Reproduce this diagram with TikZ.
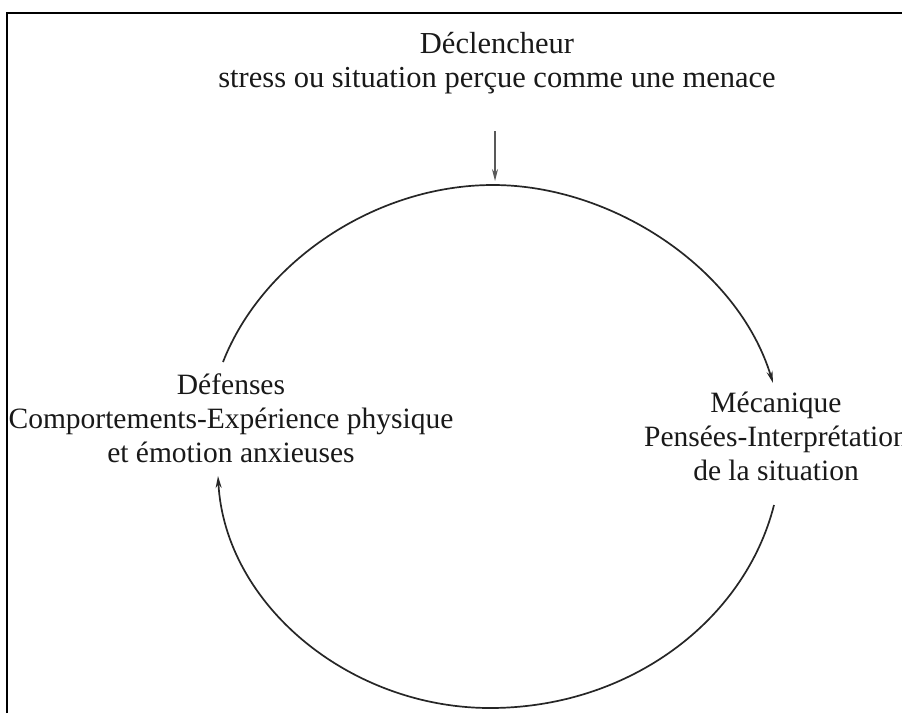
\documentclass[tikz,border=0pt]{standalone}
\usepackage{fontspec}
\setmainfont{Liberation Serif}
\usetikzlibrary{arrows.meta}
\begin{document}
\begin{tikzpicture}[x=1pt,y=-1pt,
  lbl/.style={align=center,inner sep=0pt,font=\fontsize{29.5}{34}\selectfont,text=black!90},
  toplbl/.style={lbl,font=\fontsize{30.5}{34}\selectfont},
  cyc/.style={line width=1.7pt,draw=black!85,-{Stealth[length=12pt,width=6pt]}},
  trig/.style={line width=1.4pt,draw=black!65,-{Stealth[length=12pt,width=6pt]}}]
\useasboundingbox (0,0) rectangle (902,713);
\fill[white] (0,0) rectangle (902,713);
% frame (top and left edges)
\draw[line width=2.2pt] (7,713) -- (7,13) -- (902,13);
% labels
\node[toplbl] (trigger) at (497,63) {Déclencheur\\stress ou situation perçue comme une menace};
\node[lbl] (def) at (231,418) {Défenses\\Comportements-Expérience physique\\et émotion anxieuses};
\node[lbl] (mech) at (776,436) {Mécanique\\Pensées-Interprétation\\de la situation};
% connectors
\coordinate (tstart) at (495,131);
\coordinate (ttop) at (495,181);
\draw[trig] (tstart) -- (ttop);
\coordinate (a1) at (223,362);
\coordinate (atop) at (493,185);
\coordinate (a2) at (773,383);
\coordinate (b1) at (774,505);
\coordinate (bbot) at (490,708);
\coordinate (b2) at (218,476);
\draw[cyc] (a1) .. controls (262,262) and (375,185) .. (atop)
                .. controls (612,185) and (738,268) .. (a2);
\draw[cyc] (b1) .. controls (745,620) and (630,708) .. (bbot)
                .. controls (350,708) and (225,605) .. (b2);
\end{tikzpicture}
\end{document}
